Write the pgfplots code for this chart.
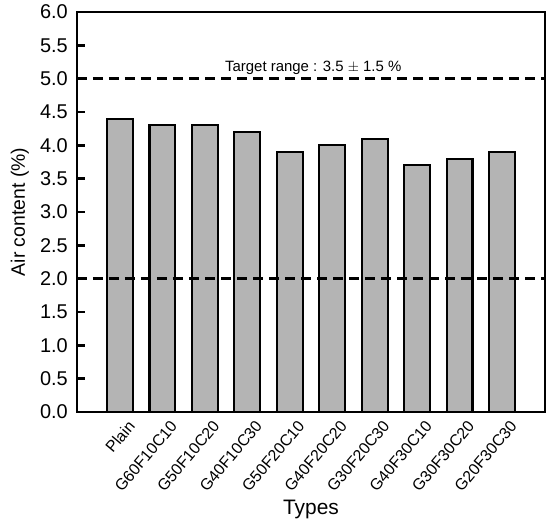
\documentclass[border=0pt]{standalone}
\usepackage{pgfplots}
\pgfplotsset{compat=1.18}
\usepackage{fontspec}
\setmainfont{Liberation Sans}
\definecolor{bargray}{RGB}{180,180,180}
\begin{document}
\begin{tikzpicture}
\begin{axis}[
  name=ax,
  scale only axis,
  width=468bp, height=400bp,
  xmin=-1.01, xmax=10.01,
  ymin=0, ymax=6,
  ytick={0,0.5,...,6},
  /pgf/number format/.cd, fixed, fixed zerofill, precision=1, assume math mode=true,
  /pgfplots/.cd,
  yticklabel style={font=\fontsize{20}{22}\selectfont, inner sep=0pt, xshift=-9bp},
  xtick={0,...,9},
  xticklabels={Plain,G60F10C10,G50F10C20,G40F10C30,G50F20C10,G40F20C20,G30F20C30,G40F30C10,G30F30C20,G20F30C30},
  xticklabel style={font=\fontsize{16}{18}\selectfont, xshift=7bp, yshift=-7bp, rotate=50, anchor=north east, inner sep=0pt},
  major x tick style={draw=none},
  ytick pos=left,
  tick align=inside,
  major tick length=8bp,
  every tick/.style={line width=2.5bp, black},
  axis line style={line width=2.8bp},
  xlabel={Types},
  ylabel={Air content (\%)},
  every axis x label/.style={at={(axis description cs:0.5,0)}, anchor=north, yshift=-88bp, inner sep=0pt, font=\fontsize{21}{23}\selectfont},
  every axis y label/.style={at={(axis description cs:0,0.5)}, xshift=-48bp, rotate=90, anchor=south, inner sep=0pt, font=\fontsize{19.5}{22}\selectfont},
]
\addplot[ybar, bar width=0.61, fill=bargray, draw=black, line width=2.2bp] coordinates {
(0,4.4) (1,4.3) (2,4.3) (3,4.2) (4,3.9) (5,4.0) (6,4.1) (7,3.7) (8,3.8) (9,3.9)
};
\addplot[line width=2.8bp, dash pattern=on 10bp off 6bp] coordinates {(-1.01,5.0) (10.01,5.0)};
\addplot[line width=2.8bp, dash pattern=on 10bp off 6bp] coordinates {(-1.01,2.0) (10.01,2.0)};
\node[anchor=south west, font=\fontsize{15}{17}\selectfont, inner sep=1bp] at (axis cs:2.45,5.05) {Target range : 3.5 $\pm$ 1.5 \%};
\end{axis}
\pgfresetboundingbox
\path ([shift={(-77bp,-113bp)}]ax.south west) rectangle ([shift={(5bp,12bp)}]ax.north east);
\end{tikzpicture}
\end{document}
